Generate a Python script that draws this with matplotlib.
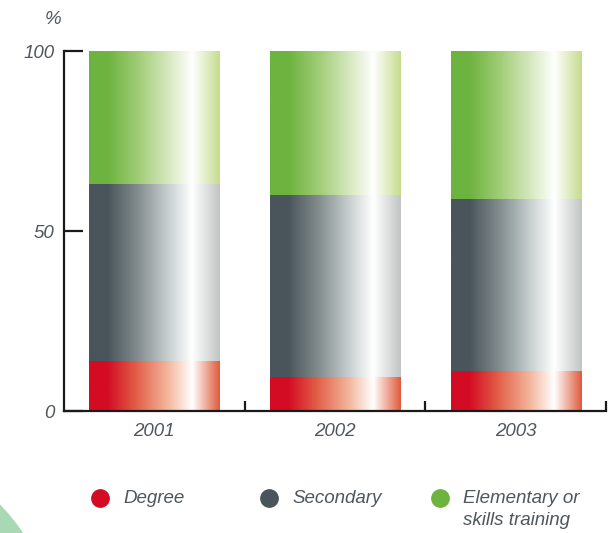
import numpy as np
import matplotlib.pyplot as plt
from matplotlib.colors import LinearSegmentedColormap, to_rgb
from matplotlib.lines import Line2D
from matplotlib.patches import Circle

years = ['2001', '2002', '2003']
degree = [14, 9.5, 11]
secondary = [49, 50.5, 48]
elementary = [37, 40, 41]

series = [
    ('Degree', degree, '#d30c24',
     [(0, '#d30c24'), (0.14, '#d30c24'), (0.35, '#e15b45'), (0.6, '#f3b59b'),
      (0.79, '#ffffff'), (1, '#df5b3c')]),
    ('Secondary', secondary, '#4a555b',
     [(0, '#4a555b'), (0.14, '#4a555b'), (0.38, '#858f91'), (0.62, '#ccd3d3'),
      (0.79, '#ffffff'), (1, '#c2c5c5')]),
    ('Elementary or\nskills training', elementary, '#6db33f',
     [(0, '#6db33f'), (0.14, '#6db33f'), (0.38, '#a2cd78'), (0.62, '#d9eac3'),
      (0.79, '#ffffff'), (1, '#c6dc8e')]),
]

txt = '#4f575c'
font = 'Liberation Sans'

fig = plt.figure(figsize=(6.13, 5.33), dpi=100)
ax = fig.add_axes([64 / 613, 122 / 533, 542 / 613, 360 / 533])

x = np.arange(len(years)) + 0.5
width = 0.72
bottom = np.zeros(len(years))
grad_x = np.linspace(0, 1, 256).reshape(1, -1)

for name, vals, base, stops in series:
    cmap = LinearSegmentedColormap.from_list(name, [(p, to_rgb(c)) for p, c in stops])
    bars = ax.bar(x, vals, width, bottom=bottom, color='none', edgecolor='none')
    for bar in bars:
        x0, y0 = bar.get_x(), bar.get_y()
        im = ax.imshow(grad_x, cmap=cmap, aspect='auto', interpolation='bilinear',
                       extent=[x0, x0 + bar.get_width(), y0, y0 + bar.get_height()],
                       zorder=2)
        im.set_clip_path(bar)
    bottom += np.array(vals)

ax.set_xlim(0, 3)
ax.set_ylim(0, 100)

for s in ['top', 'right']:
    ax.spines[s].set_visible(False)
for s in ['left', 'bottom']:
    ax.spines[s].set_linewidth(1.6)
    ax.spines[s].set_color('#1a1a1a')

ax.set_yticks([0, 50, 100])
ax.set_yticklabels(['0', '50', '100'])
ax.tick_params(axis='y', direction='in', length=14, width=1.6, color='#1a1a1a',
               pad=7, labelsize=13.5, labelcolor=txt)
ax.set_xticks(x)
ax.set_xticklabels(years)
ax.tick_params(axis='x', length=0, pad=9, labelsize=13.5, labelcolor=txt)
ax.set_xticks([1, 2, 3], minor=True)
ax.tick_params(axis='x', which='minor', direction='in', length=7, width=1.6,
               color='#1a1a1a')
for lab in ax.get_xticklabels() + ax.get_yticklabels():
    lab.set_fontfamily(font)
    lab.set_fontstyle('italic')

fig.text(53 / 613, 1 - 19 / 533, '%', ha='center', va='center', fontsize=13.5,
         color=txt, fontfamily=font, fontstyle='italic')

# legend row below the chart
marker_x = [100, 269, 440]
for (name, vals, base, stops), mx in zip(series, marker_x):
    fig.add_artist(Line2D([mx / 613], [1 - 498 / 533], marker='o', markersize=12.5,
                          color=base, linestyle='none', transform=fig.transFigure))
    fig.text((mx + 23) / 613, 1 - 490 / 533, name, ha='left', va='top', fontsize=13.5,
             color=txt, fontfamily=font, fontstyle='italic', linespacing=1.38)

# decorative arc in the lower-left corner
arc = Circle((-1.50, -1.17), 2.09, transform=fig.dpi_scale_trans,
             facecolor='#a9d8b5', edgecolor='none', zorder=0)
fig.add_artist(arc)

fig.savefig('out.png', dpi=100)
